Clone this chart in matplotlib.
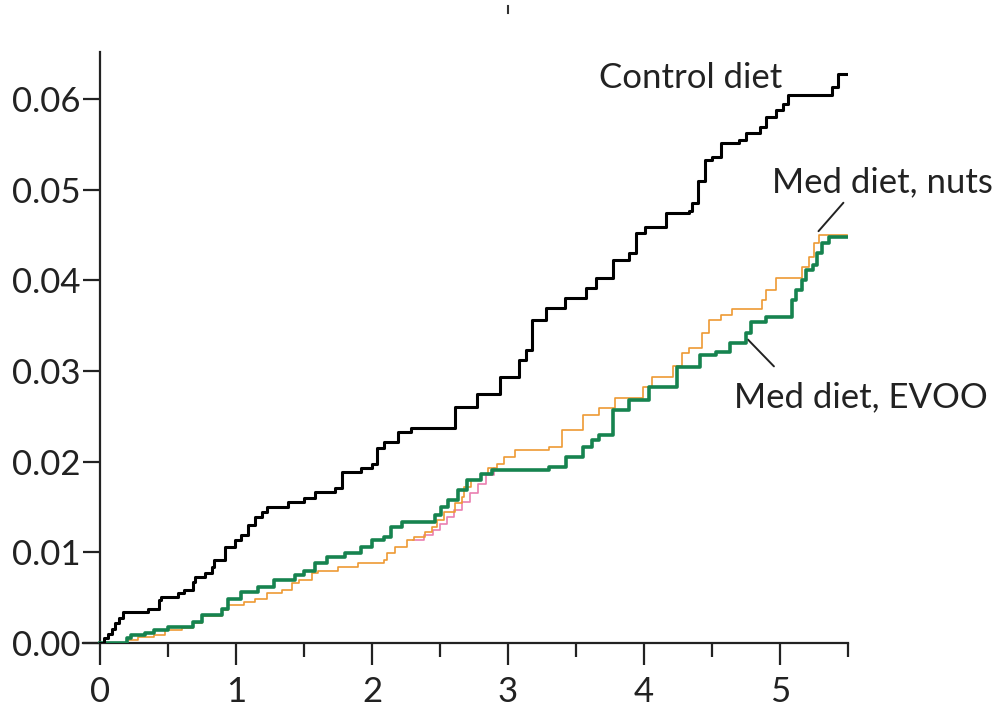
import matplotlib
matplotlib.use("Agg")
import matplotlib.pyplot as plt
from matplotlib.lines import Line2D

# ---------------- data (step change points, value after each time) ----------------
ctrl_t = [0.00, 0.03, 0.06, 0.09, 0.11, 0.14, 0.17, 0.35, 0.43, 0.45, 0.57, 0.62, 0.68, 0.70,
          0.77, 0.82, 0.84, 0.92, 0.99, 1.04, 1.09, 1.14, 1.19, 1.23, 1.38, 1.50, 1.58, 1.73,
          1.78, 1.92, 2.00, 2.04, 2.09, 2.19, 2.29, 2.61, 2.77, 2.94, 3.08, 3.13, 3.18, 3.28,
          3.42, 3.57, 3.65, 3.77, 3.89, 3.94, 4.01, 4.16, 4.33, 4.35, 4.40, 4.45, 4.50, 4.57,
          4.70, 4.75, 4.85, 4.90, 4.97, 5.02, 5.06, 5.38, 5.43, 5.49]
ctrl_y = [0.0000, 0.0005, 0.0010, 0.0016, 0.0022, 0.0028, 0.0034, 0.0038, 0.0047, 0.0051, 0.0055,
          0.0058, 0.0067, 0.0073, 0.0077, 0.0084, 0.0092, 0.0106, 0.0114, 0.0119, 0.0130, 0.0139,
          0.0145, 0.0150, 0.0156, 0.0160, 0.0167, 0.0171, 0.0189, 0.0193, 0.0198, 0.0215, 0.0222,
          0.0233, 0.0237, 0.0260, 0.0275, 0.0293, 0.0312, 0.0323, 0.0356, 0.0370, 0.0381, 0.0392,
          0.0403, 0.0422, 0.0430, 0.0452, 0.0459, 0.0474, 0.0477, 0.0485, 0.0510, 0.0533, 0.0536,
          0.0552, 0.0555, 0.0563, 0.0569, 0.0580, 0.0588, 0.0595, 0.0604, 0.0613, 0.0628, 0.0628]

evoo_t = [0.00, 0.20, 0.23, 0.33, 0.40, 0.50, 0.68, 0.75, 0.90, 0.94, 1.04, 1.16, 1.28, 1.43,
          1.50, 1.58, 1.67, 1.80, 1.92, 2.00, 2.09, 2.14, 2.22, 2.46, 2.51, 2.56, 2.63, 2.70,
          2.80, 2.88, 3.30, 3.43, 3.55, 3.62, 3.67, 3.77, 3.89, 4.04, 4.24, 4.41, 4.53, 4.63,
          4.75, 4.79, 4.90, 5.09, 5.12, 5.16, 5.19, 5.24, 5.27, 5.31, 5.36, 5.49]
evoo_y = [0.0000, 0.0006, 0.0009, 0.0011, 0.0014, 0.0018, 0.0023, 0.0031, 0.0038, 0.0049, 0.0056,
          0.0062, 0.0069, 0.0075, 0.0080, 0.0088, 0.0095, 0.0099, 0.0106, 0.0114, 0.0117, 0.0128,
          0.0133, 0.0141, 0.0150, 0.0158, 0.0169, 0.0180, 0.0187, 0.0191, 0.0194, 0.0205, 0.0216,
          0.0224, 0.0229, 0.0257, 0.0268, 0.0282, 0.0304, 0.0318, 0.0321, 0.0331, 0.0342, 0.0354,
          0.0360, 0.0378, 0.0389, 0.0400, 0.0411, 0.0417, 0.0430, 0.0441, 0.0448, 0.0448]

nuts_t = [0.00, 0.20, 0.28, 0.40, 0.48, 0.60, 0.68, 0.75, 0.90, 0.94, 1.06, 1.14, 1.23, 1.34,
          1.41, 1.46, 1.56, 1.60, 1.75, 1.90, 2.09, 2.11, 2.17, 2.26, 2.31, 2.39, 2.44, 2.48,
          2.53, 2.61, 2.66, 2.68, 2.73, 2.80, 2.85, 2.92, 2.97, 3.05, 3.30, 3.40, 3.55, 3.67,
          3.79, 3.99, 4.06, 4.21, 4.28, 4.33, 4.43, 4.48, 4.57, 4.65, 4.87, 4.90, 4.97, 5.16,
          5.21, 5.25, 5.29, 5.49]
nuts_y = [0.0000, 0.0003, 0.0007, 0.0009, 0.0014, 0.0017, 0.0022, 0.0030, 0.0036, 0.0042, 0.0045,
          0.0049, 0.0055, 0.0058, 0.0066, 0.0069, 0.0077, 0.0080, 0.0084, 0.0088, 0.0092, 0.0099,
          0.0106, 0.0114, 0.0117, 0.0122, 0.0128, 0.0136, 0.0144, 0.0154, 0.0161, 0.0172, 0.0180,
          0.0187, 0.0193, 0.0198, 0.0205, 0.0213, 0.0216, 0.0235, 0.0251, 0.0259, 0.0270, 0.0282,
          0.0293, 0.0306, 0.0320, 0.0326, 0.0342, 0.0356, 0.0362, 0.0369, 0.0378, 0.0389, 0.0403,
          0.0415, 0.0426, 0.0441, 0.0450, 0.0450]

pink_t = [2.30, 2.38, 2.45, 2.50, 2.55, 2.60, 2.66, 2.72, 2.78, 2.84, 2.90]
pink_y = [0.0114, 0.0119, 0.0125, 0.0131, 0.0139, 0.0147, 0.0156, 0.0165, 0.0175, 0.0185, 0.0193]

x_ticks = [0, 1, 2, 3, 4, 5]
x_minor = [0.5, 1.5, 2.5, 3.5, 4.5, 5.5]
y_ticks = [0.00, 0.01, 0.02, 0.03, 0.04, 0.05, 0.06]
y_labels = ["0.00", "0.01", "0.02", "0.03", "0.04", "0.05", "0.06"]

# ---------------- figure ----------------
plt.rcParams['font.family'] = ['Lato', 'DejaVu Sans']
fig = plt.figure(figsize=(9.97, 7.2), dpi=100)
ax = fig.add_axes([0.0833, 0.1069, 0.8505 - 0.0833, 0.9278 - 0.1069])

GREEN = "#16834f"
ORANGE = "#ee9a33"
PINK = "#ea7fb0"

ax.step(pink_t, pink_y, where='post', color=PINK, lw=1.2, zorder=2)
ax.step(nuts_t, nuts_y, where='post', color=ORANGE, lw=1.2, zorder=3)
ax.step(evoo_t, evoo_y, where='post', color=GREEN, lw=2.6, zorder=4)
ax.step(ctrl_t, ctrl_y, where='post', color="black", lw=2.2, zorder=5)

ax.set_xlim(-0.125, 5.5)
ax.set_ylim(0, 0.0652)

for s in ['top', 'right']:
    ax.spines[s].set_visible(False)
ax.spines['left'].set_position(('data', 0))
ax.spines['left'].set_linewidth(1.6)
ax.spines['bottom'].set_linewidth(1.6)
ax.spines['left'].set_color('#222222')
ax.spines['bottom'].set_color('#222222')

ax.set_xticks(x_ticks)
ax.set_xticklabels([str(v) for v in x_ticks])
ax.set_xticks(x_minor, minor=True)
ax.set_yticks(y_ticks)
ax.set_yticklabels(y_labels)

ax.tick_params(axis='x', which='major', length=16, width=1.6, direction='out',
               labelsize=25, pad=8, color='#222222', labelcolor='#222222')
ax.tick_params(axis='x', which='minor', length=10, width=1.6, direction='out', color='#222222')
ax.tick_params(axis='y', which='major', length=12, width=1.6, direction='out',
               labelsize=25, pad=2, color='#222222', labelcolor='#222222')

# labels
ax.text(3.67, 0.0612, "Control diet", fontsize=25, color='#222222', va='baseline', ha='left')
ax.text(4.94, 0.0497, "Med diet, nuts", fontsize=25, color='#222222', va='baseline', ha='left')
ax.text(4.66, 0.0260, "Med diet, EVOO", fontsize=25, color='#222222', va='baseline', ha='left')

# leader lines
ax.annotate("", xy=(5.27, 0.0452), xytext=(5.48, 0.0488),
            arrowprops=dict(arrowstyle='-', color='#222222', lw=1.4))
ax.annotate("", xy=(4.75, 0.0337), xytext=(4.97, 0.0303),
            arrowprops=dict(arrowstyle='-', color='#222222', lw=1.4))

# small stray mark at the top of the original crop
fig.add_artist(Line2D([0.5095, 0.5095], [0.982, 0.992], color='#333333', lw=1.5))

fig.savefig("out.png", dpi=100)
